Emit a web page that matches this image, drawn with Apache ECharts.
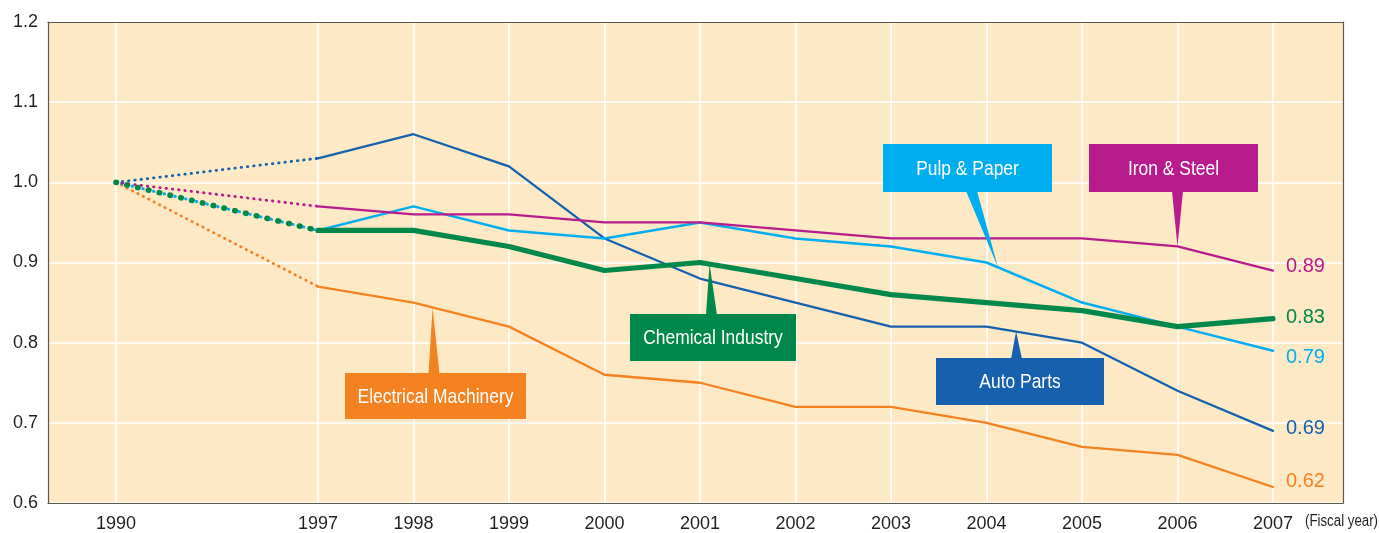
<!DOCTYPE html>
<html>
<head>
<meta charset="utf-8">
<script src="https://cdn.jsdelivr.net/npm/echarts@6/dist/echarts.min.js"></script>
<style>
  html, body { margin: 0; padding: 0; background: #ffffff; }
  #chart { width: 1379px; height: 533px; }
</style>
</head>
<body>
<div id="chart"></div>
<script>
// Fiscal years shown on the horizontal axis
const years = [1990, 1997, 1998, 1999, 2000, 2001, 2002, 2003, 2004, 2005, 2006, 2007];
// Index values per industry (1990 = 1.0)
const ironSteel  = [1.00, 0.97, 0.96, 0.96, 0.95, 0.95, 0.94, 0.93, 0.93, 0.93, 0.92, 0.89];
const pulpPaper  = [1.00, 0.94, 0.97, 0.94, 0.93, 0.95, 0.93, 0.92, 0.90, 0.85, 0.82, 0.79];
const chemical   = [1.00, 0.94, 0.94, 0.92, 0.89, 0.90, 0.88, 0.86, 0.85, 0.84, 0.82, 0.83];
const autoParts  = [1.00, 1.03, 1.06, 1.02, 0.93, 0.88, 0.85, 0.82, 0.82, 0.80, 0.74, 0.69];
const electrical = [1.00, 0.87, 0.85, 0.82, 0.76, 0.75, 0.72, 0.72, 0.70, 0.67, 0.66, 0.62];
// Vertical axis range
const yMin = 0.6, yMax = 1.2, yStep = 0.1;

// The 1990 -> 1997 stretch is compressed to a little over two year-widths
const GAP = 2.115;
function pos(year) {
  return year <= 1990 ? year - 1990 : GAP + (year - 1997);
}
function yearAt(p) {
  for (const y of years) if (Math.abs(pos(y) - p) < 1e-6) return String(y);
  return '';
}
function valueAt(data, year) {
  for (let i = 0; i < years.length - 1; i++) {
    if (year >= years[i] && year <= years[i + 1]) {
      const t = (year - years[i]) / (years[i + 1] - years[i]);
      return data[i] + (data[i + 1] - data[i]) * t;
    }
  }
  return data[data.length - 1];
}

const COLORS = {
  iron: '#b81b8c',
  pulp: '#00aeef',
  chem: '#00884a',
  auto: '#1660ad',
  elec: '#f58220'
};
const PLAIN = '"Liberation Sans", Roboto, sans-serif';

function toPoints(data, from, to) {
  const out = [];
  for (let i = from; i <= to; i++) out.push([pos(years[i]), data[i]]);
  return out;
}

function industry(name, data, color, width, dotWidth, dash, labelOffset) {
  const last = years.length - 1;
  return [
    {
      name: name + ' (1990-1997)',
      type: 'line',
      data: toPoints(data, 0, 1),
      symbol: 'none',
      silent: true,
      lineStyle: { color: color, width: dotWidth, type: dash, cap: 'round' }
    },
    {
      name: name,
      type: 'line',
      data: toPoints(data, 1, last),
      symbol: 'none',
      silent: true,
      lineStyle: { color: color, width: width, cap: 'round', join: 'round' },
      endLabel: {
        show: true,
        formatter: p => p.value[1].toFixed(2),
        color: color,
        fontFamily: PLAIN,
        fontSize: 20,
        distance: 13,
        offset: labelOffset
      }
    }
  ];
}

const series = [].concat(
  industry('Electrical Machinery', electrical, COLORS.elec, 2.3, 2.8, [0.5, 5.6], [0, -5]),
  industry('Auto Parts', autoParts, COLORS.auto, 2.3, 2.8, [0.5, 5.8], [0, -2]),
  industry('Pulp & Paper', pulpPaper, COLORS.pulp, 2.5, 3.0, [0.5, 5.0], [0, 7]),
  industry('Iron & Steel', ironSteel, COLORS.iron, 2.3, 2.8, [0.5, 5.8], [0, -4]),
  industry('Chemical Industry', chemical, COLORS.chem, 5.2, 5.6, [0.5, 10.6], [0, -1])
);

const chart = echarts.init(document.getElementById('chart'), null, { renderer: 'canvas' });

chart.setOption({
  animation: false,
  backgroundColor: '#ffffff',
  grid: {
    left: 48, right: 36, top: 22, bottom: 30,
    containLabel: false,
    outerBoundsMode: 'none',
    show: true,
    backgroundColor: '#fde9c5',
    borderWidth: 0
  },
  xAxis: [
    {
      type: 'value',
      min: pos(1990) - 0.712,
      max: pos(2007) + 0.733,
      axisLine: { show: true, onZero: false, lineStyle: { color: '#5a5650', width: 1.2 } },
      axisTick: { show: false, customValues: years.map(pos) },
      axisLabel: {
        customValues: years.map(pos),
        formatter: v => yearAt(v),
        color: '#231f20',
        fontFamily: PLAIN,
        fontSize: 18,
        margin: 12
      },
      splitLine: { show: true, lineStyle: { color: '#ffffff', width: 1.6 } }
    },
    {
      type: 'value',
      position: 'top',
      min: 0, max: 1,
      axisLine: { show: true, onZero: false, lineStyle: { color: '#5a5650', width: 1.2 } },
      axisTick: { show: false },
      axisLabel: { show: false },
      splitLine: { show: false }
    }
  ],
  yAxis: [
    {
      type: 'value',
      min: yMin,
      max: yMax,
      interval: yStep,
      axisLine: { show: true, onZero: false, lineStyle: { color: '#5a5650', width: 1.2 } },
      axisTick: { show: false },
      axisLabel: {
        formatter: v => v.toFixed(1),
        color: '#231f20',
        fontFamily: PLAIN,
        fontSize: 18,
        margin: 10
      },
      splitLine: { show: true, lineStyle: { color: '#ffffff', width: 1.6 } }
    },
    {
      type: 'value',
      position: 'right',
      min: 0, max: 1,
      axisLine: { show: true, onZero: false, lineStyle: { color: '#5a5650', width: 1.2 } },
      axisTick: { show: false },
      axisLabel: { show: false },
      splitLine: { show: false }
    }
  ],
  series: series
});

// Callout boxes: box rectangle in page pixels, wedge tip anchored on the series line
const callouts = [
  { text: 'Pulp & Paper', data: pulpPaper, color: COLORS.pulp, tipYear: 2004.12, box: [883, 144, 169, 48], baseX: 971.5 },
  { text: 'Iron & Steel', data: ironSteel, color: COLORS.iron, tipYear: 2006.0, box: [1089, 144, 169, 48], baseX: 1177.5 },
  { text: 'Chemical Industry', data: chemical, color: COLORS.chem, tipYear: 2001.1, box: [630, 314, 166, 47], baseX: 711.5 },
  { text: 'Electrical Machinery', data: electrical, color: COLORS.elec, tipYear: 1998.2, box: [345, 373, 181, 46], baseX: 434 },
  { text: 'Auto Parts', data: autoParts, color: COLORS.auto, tipYear: 2004.31, box: [936, 358, 168, 47], baseX: 1016.5 }
];

// Condensed lettering: regular face squeezed horizontally
const NARROW_SCALE = 0.83;

const graphics = [];
callouts.forEach(c => {
  const tip = chart.convertToPixel({ gridIndex: 0 }, [pos(c.tipYear), valueAt(c.data, c.tipYear)]);
  const [bx, by, bw, bh] = c.box;
  const baseY = tip[1] < by ? by + 1 : by + bh - 1;
  graphics.push({
    type: 'polygon',
    z: 100,
    shape: { points: [[c.baseX - 5.5, baseY], [c.baseX + 5.5, baseY], [tip[0], tip[1]]] },
    style: { fill: c.color }
  });
  graphics.push({
    type: 'rect',
    z: 100,
    shape: { x: bx, y: by, width: bw, height: bh },
    style: { fill: c.color }
  });
  graphics.push({
    type: 'text',
    z: 101,
    x: bx + bw / 2,
    y: by + bh / 2 + 1,
    scaleX: NARROW_SCALE,
    style: {
      text: c.text,
      fill: '#ffffff',
      font: '21px ' + PLAIN,
      align: 'center',
      verticalAlign: 'middle'
    }
  });
});

// Unit note to the right of the last year label
const unitAnchor = chart.convertToPixel({ gridIndex: 0 }, [pos(2007), yMin]);
graphics.push({
  type: 'text',
  x: unitAnchor[0] + 32,
  y: unitAnchor[1] + 19,
  scaleX: NARROW_SCALE,
  style: {
    text: '(Fiscal year)',
    fill: '#231f20',
    font: '16px ' + PLAIN,
    align: 'left',
    verticalAlign: 'middle'
  }
});

chart.setOption({ graphic: graphics });
</script>
</body>
</html>
